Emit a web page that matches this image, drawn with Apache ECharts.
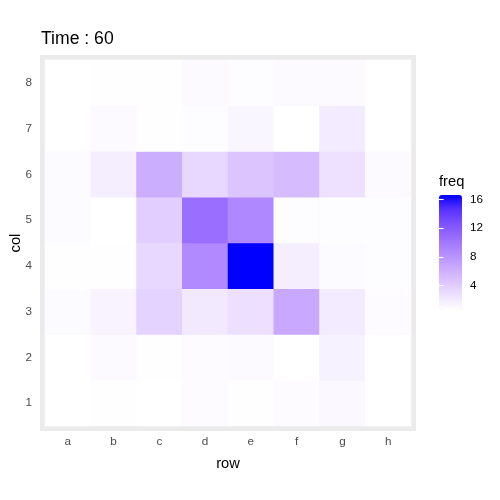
<!DOCTYPE html>
<html>
<head>
<meta charset="utf-8">
<script src="https://cdn.jsdelivr.net/npm/echarts@6/dist/echarts.min.js"></script>
<style>
  html, body { margin: 0; padding: 0; background: #fff; }
  #chart { width: 500px; height: 500px; }
</style>
</head>
<body>
<div id="chart"></div>
<script>
  // categories
  var rows = ['a', 'b', 'c', 'd', 'e', 'f', 'g', 'h'];
  var cols = ['1', '2', '3', '4', '5', '6', '7', '8'];
  // freq per col (1..8), values for rows a..h
  var col1 = [0.6, 0.65, 0.6, 0.85, 0.7, 0.85, 1.1, 0.6];
  var col2 = [0.6, 1.0, 0.7, 0.85, 1.0, 0.6, 1.5, 0.6];
  var col3 = [0.9, 1.4, 3.7, 2.1, 2.8, 6.5, 2.0, 0.85];
  var col4 = [0.75, 0.75, 3.3, 8.7, 16.6, 1.8, 0.9, 0.8];
  var col5 = [0.9, 0.6, 3.9, 10.7, 8.9, 0.8, 0.8, 0.8];
  var col6 = [0.9, 1.8, 6.2, 3.3, 4.6, 5.2, 2.7, 1.0];
  var col7 = [0.6, 1.0, 0.7, 0.8, 1.2, 0.6, 2.0, 0.6];
  var col8 = [0.6, 0.7, 0.65, 1.0, 0.8, 1.0, 1.0, 0.6];
  var freqByCol = [col1, col2, col3, col4, col5, col6, col7, col8];
  // colourbar
  var freqMin = 0.6;
  var freqMax = 16.6;
  var legendTicks = [4, 8, 12, 16];
  // white -> blue, interpolated in Lab like ggplot
  var ramp = ['#FFFFFF', '#EEE2FF', '#DCC4FF', '#C8A8FF', '#B38BFF',
              '#9B6FFF', '#7E51FF', '#5932FF', '#0000FF'];

  var cells = [];
  freqByCol.forEach(function (vals, j) {
    vals.forEach(function (v, i) { cells.push([i, j, v]); });
  });

  var font = 'Liberation Sans, Arial, sans-serif';
  var grey = '#EBEBEB';

  // white grid stubs in the grey panel margin (ticks of helper axes)
  function whiteAxis(pos, data) {
    return {
      type: 'category', data: data, position: pos, gridIndex: 0, z: 3,
      axisLine: { show: false },
      axisTick: { alignWithLabel: true, length: 5, lineStyle: { color: '#fff', width: 1.1 } },
      axisLabel: { show: false }, splitLine: { show: false }
    };
  }

  var chart = echarts.init(document.getElementById('chart'));
  chart.setOption({
    animation: false,
    textStyle: { fontFamily: font },
    title: [
      { text: 'Time : 60', left: 36, top: 25,
        textStyle: { fontSize: 17.6, fontWeight: 'normal', color: '#000', fontFamily: font } },
      { text: 'freq', left: 434, top: 169,
        textStyle: { fontSize: 14.7, fontWeight: 'normal', color: '#000', fontFamily: font } }
    ],
    graphic: [
      { type: 'rect', z: -1, shape: { x: 40, y: 55, width: 376, height: 376 }, style: { fill: grey } }
    ],
    grid: [
      { left: 45, top: 60, width: 366, height: 366, containLabel: false, outerBoundsMode: 'none' },
      { left: 439, top: 195, width: 23, height: 115, containLabel: false, outerBoundsMode: 'none' }
    ],
    xAxis: [
      {
        type: 'category', data: rows, gridIndex: 0, position: 'bottom', offset: 5, z: 3,
        name: 'row', nameLocation: 'middle', nameGap: 25, nameMoveOverlap: false,
        nameTextStyle: { fontSize: 14.7, color: '#000', fontFamily: font },
        axisLine: { show: false },
        axisTick: { alignWithLabel: true, length: 3.7, lineStyle: { color: '#333', width: 1.1 } },
        axisLabel: { color: '#4D4D4D', fontSize: 11.7, margin: 5, fontFamily: font },
        splitLine: { show: false }
      },
      whiteAxis('bottom', rows),
      whiteAxis('top', rows),
      { type: 'value', gridIndex: 1, show: false, min: 0, max: 1 }
    ],
    yAxis: [
      {
        type: 'category', data: cols, gridIndex: 0, position: 'left', offset: 5, z: 3,
        name: 'col', nameLocation: 'middle', nameGap: 17, nameRotate: 90, nameMoveOverlap: false,
        nameTextStyle: { fontSize: 14.7, color: '#000', fontFamily: font },
        axisLine: { show: false },
        axisTick: { alignWithLabel: true, length: 3.7, lineStyle: { color: '#333', width: 1.1 } },
        axisLabel: { color: '#4D4D4D', fontSize: 11.7, margin: 8, fontFamily: font },
        splitLine: { show: false }
      },
      whiteAxis('left', cols),
      whiteAxis('right', cols),
      {
        type: 'value', gridIndex: 1, position: 'right', min: freqMin, max: freqMax, z: 10,
        axisLine: { show: false },
        axisTick: { show: true, inside: true, length: 4.6, customValues: legendTicks,
                    lineStyle: { color: '#fff', width: 1.1 } },
        axisLabel: { show: true, customValues: legendTicks, margin: 8, color: '#000',
                     fontSize: 11.7, fontFamily: font },
        splitLine: { show: false }
      },
      {
        type: 'value', gridIndex: 1, position: 'left', min: freqMin, max: freqMax, z: 10,
        axisLine: { show: false },
        axisTick: { show: true, inside: true, length: 4.6, customValues: legendTicks,
                    lineStyle: { color: '#fff', width: 1.1 } },
        axisLabel: { show: false },
        splitLine: { show: false }
      }
    ],
    visualMap: {
      type: 'continuous', min: freqMin, max: freqMax, seriesIndex: 0,
      left: 439, top: 195, itemWidth: 23, itemHeight: 115, padding: 0,
      calculable: false, text: null, showLabel: false, hoverLink: false,
      inRange: { color: ramp }
    },
    series: [
      {
        type: 'heatmap', xAxisIndex: 0, yAxisIndex: 0, data: cells,
        itemStyle: { borderWidth: 0 },
        emphasis: { disabled: true }
      }
    ]
  });
</script>
</body>
</html>
